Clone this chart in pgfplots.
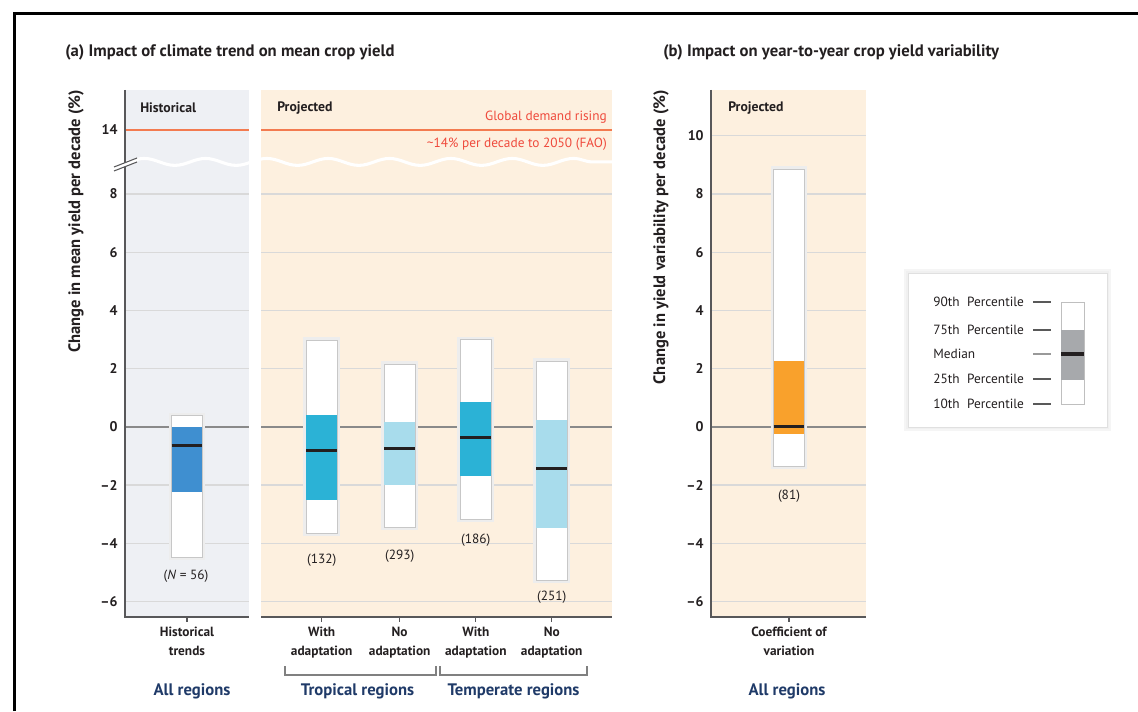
\documentclass[border=0pt]{standalone}
\usepackage{fontspec}
\setmainfont{PT Sans}
\usepackage{pgfplots}
\pgfplotsset{compat=1.18}
\usepgfplotslibrary{statistics}
\usetikzlibrary{decorations.pathmorphing}
\pgfplotsset{boxplot/draw direction=y}

\definecolor{histbg}{HTML}{EEF0F4}
\definecolor{projbg}{HTML}{FDF0DF}
\definecolor{gridc}{HTML}{D9D9D9}
\definecolor{zeroc}{HTML}{8A8A8A}
\definecolor{axisc}{HTML}{58585A}
\definecolor{demand}{HTML}{F37B50}
\definecolor{demandtxt}{HTML}{EF4A3C}
\definecolor{histbox}{HTML}{3F8FD0}
\definecolor{adapt}{HTML}{2BB2D6}
\definecolor{noadapt}{HTML}{A8DCEC}
\definecolor{cvbox}{HTML}{F9A12C}
\definecolor{medc}{HTML}{231F20}
\definecolor{navy}{HTML}{1F3A68}
\definecolor{txt}{HTML}{231F20}
\definecolor{legbox}{HTML}{A7A9AC}

% position, p10, p25, median, p75, p90, colour, box width
\newcommand{\pctbox}[8]{%
 \addplot[boxplot/draw direction=y, boxplot prepared={draw position=#1, box extend=#8,
   lower whisker=#2, lower quartile=#2, median=#4, upper quartile=#6, upper whisker=#6,
   every box/.style={fill=white, draw=black!22, line width=0.7pt,
     preaction={draw=black!7, line width=4.5pt}},
   every median/.style={draw=none}, every whisker/.style={draw=none}}] coordinates {};
 \addplot[boxplot/draw direction=y, boxplot prepared={draw position=#1, box extend=#8,
   lower whisker=#3, lower quartile=#3, median=#4, upper quartile=#5, upper whisker=#5,
   every box/.style={fill=#7, draw=none},
   every median/.style={draw=medc, line width=2.3pt}, every whisker/.style={draw=none}}] coordinates {};
}
\newcommand{\tfont}{\bfseries\fontsize{12.5}{14}\selectfont}
\newcommand{\yfont}{\bfseries\fontsize{12.4}{14}\selectfont}
\newcommand{\lfont}{\bfseries\fontsize{10.3}{12}\selectfont}
\newcommand{\nfont}{\fontsize{10}{12}\selectfont}
\newcommand{\gfont}{\bfseries\fontsize{12.5}{14}\selectfont}

\begin{document}
\begin{tikzpicture}
\path[use as bounding box] (0,0) rectangle (853.5pt,533.25pt);

% ---------------- panel (a)
\begin{axis}[
  at={(93.75pt,70.5pt)}, anchor=south west,
  scale only axis, width=365.25pt, height=395.25pt,
  xmin=-0.808, xmax=5.541, ymin=-6.53, ymax=11.57,
  axis line style={draw=none}, major tick length=0pt, clip=false,
  xtick={0,1.756,2.773,3.765,4.755},
  xticklabels={{Historical\\trends},{With\\adaptation},{No\\adaptation},{With\\adaptation},{No\\adaptation}},
  ytick={-6,-4,-2,0,2,4,6,8,10.2},
  yticklabels={--6,--4,--2,0,2,4,6,8,14},
  xticklabel style={align=center, font=\bfseries\fontsize{10}{14}\selectfont, text=txt, yshift=-4pt},
  yticklabel style={font=\bfseries\fontsize{10.5}{12}\selectfont, text=txt, xshift=-2pt},
]
\fill[histbg] (axis cs:-0.808,-6.53) rectangle (axis cs:0.808,11.57);
\fill[projbg] (axis cs:0.965,-6.53) rectangle (axis cs:5.541,11.57);
\pgfplotsinvokeforeach{-6,-4,-2,2,4,6,8}{
  \draw[gridc, line width=1pt] (axis cs:-0.808,#1) -- (axis cs:0.808,#1);
  \draw[gridc, line width=1pt] (axis cs:0.965,#1) -- (axis cs:5.541,#1);
}
\draw[zeroc, line width=1.2pt] (axis cs:-0.808,0) -- (axis cs:0.808,0);
\draw[zeroc, line width=1.2pt] (axis cs:0.965,0) -- (axis cs:5.541,0);
\draw[demand, line width=1.5pt] (axis cs:-0.808,10.2) -- (axis cs:0.808,10.2);
\draw[demand, line width=1.5pt] (axis cs:0.965,10.2) -- (axis cs:5.541,10.2);
\draw[white, line width=2.3pt, decorate, decoration={snake, amplitude=2.6pt, segment length=46pt}]
  (axis cs:-0.808,9.1) -- (axis cs:5.541,9.1);
\fill[white] (axis cs:0.808,-6.53) rectangle (axis cs:0.965,11.57);

\pctbox{0}{-4.47}{-2.25}{-0.64}{0.0}{0.38}{histbox}{0.4}
\pctbox{1.756}{-3.66}{-2.52}{-0.82}{0.41}{2.98}{adapt}{0.4}
\pctbox{2.773}{-3.44}{-1.99}{-0.74}{0.17}{2.15}{noadapt}{0.4}
\pctbox{3.765}{-3.18}{-1.68}{-0.37}{0.84}{3.00}{adapt}{0.4}
\pctbox{4.755}{-5.27}{-3.47}{-1.44}{0.23}{2.26}{noadapt}{0.4}

\draw[axisc, line width=1.8pt] (axis cs:-0.808,11.57) -- (axis cs:-0.808,-6.53) -- (axis cs:0.808,-6.53);
\draw[axisc, line width=1.8pt] (axis cs:0.965,-6.53) -- (axis cs:5.541,-6.53);
\pgfplotsinvokeforeach{0,1.756,2.773,3.765,4.755}{
  \draw[axisc, line width=1pt] (axis cs:#1,-6.53) -- (axis cs:#1,-6.71);
}
\end{axis}

% ---------------- panel (b)
\begin{axis}[
  at={(533.25pt,70.5pt)}, anchor=south west,
  scale only axis, width=116.25pt, height=395.25pt,
  xmin=-1.017, xmax=1.004, ymin=-6.53, ymax=11.57,
  axis line style={draw=none}, major tick length=0pt, clip=false,
  xtick={0},
  xticklabels={{Coefficient of\\variation}},
  ytick={-6,-4,-2,0,2,4,6,8,10},
  yticklabels={--6,--4,--2,0,2,4,6,8,10},
  xticklabel style={align=center, font=\bfseries\fontsize{10}{14}\selectfont, text=txt, yshift=-4pt},
  yticklabel style={font=\bfseries\fontsize{10.5}{12}\selectfont, text=txt, xshift=-2pt},
]
\fill[projbg] (axis cs:-1.017,-6.53) rectangle (axis cs:1.004,11.57);
\pgfplotsinvokeforeach{-6,-4,-2,2,4,6,8,10}{
  \draw[gridc, line width=1pt] (axis cs:-1.017,#1) -- (axis cs:1.004,#1);
}
\draw[zeroc, line width=1.2pt] (axis cs:-1.017,0) -- (axis cs:1.004,0);

\pctbox{0}{-1.35}{-0.25}{0.0}{2.25}{8.85}{cvbox}{0.4}

\draw[axisc, line width=1.8pt] (axis cs:-1.017,11.57) -- (axis cs:-1.017,-6.53) -- (axis cs:1.004,-6.53);
\draw[axisc, line width=1pt] (axis cs:0,-6.53) -- (axis cs:0,-6.71);
\end{axis}

% ---------------- legend box background
\begin{scope}[x=0.75pt,y=0.75pt]
\fill[black!4] (904,280) rectangle (1111,442);
\fill[black!6] (906,282) rectangle (1109,440);
\filldraw[fill=white, draw=black!12] (908,284) rectangle (1107,438);
\end{scope}

% ---------------- legend key
\begin{axis}[
  at={(795.75pt,230.25pt)}, anchor=south west,
  scale only axis, width=17.25pt, height=76.5pt,
  xmin=-0.5, xmax=0.5, ymin=307, ymax=409, hide axis, clip=false,
]
\addplot[boxplot/draw direction=y, boxplot prepared={draw position=0, box extend=1,
   lower whisker=307, lower quartile=307, median=357, upper quartile=409, upper whisker=409,
   every box/.style={fill=white, draw=black!25, line width=0.7pt},
   every median/.style={draw=none}, every whisker/.style={draw=none}}] coordinates {};
\addplot[boxplot/draw direction=y, boxplot prepared={draw position=0, box extend=1,
   lower whisker=331, lower quartile=331, median=357, upper quartile=381, upper whisker=381,
   every box/.style={fill=legbox, draw=none},
   every median/.style={draw=medc, line width=2.3pt}, every whisker/.style={draw=none}}] coordinates {};
\end{axis}

% ---------------- texts in pixel units
\begin{scope}[x=0.75pt,y=0.75pt]
\draw[black, line width=2.25pt] (14.5,0) -- (14.5,697.5) -- (1138,697.5);

\node[anchor=west, inner sep=0, text=txt, font=\tfont] at (65,659) {(a) Impact of climate trend on mean crop yield};
\node[anchor=west, inner sep=0, text=txt, font=\tfont] at (663,659) {(b) Impact on year-to-year crop yield variability};

\node[rotate=90, anchor=east, inner sep=0, text=txt, font=\yfont] at (76,621) {Change in mean yield per decade (\%)};
\node[rotate=90, anchor=east, inner sep=0, text=txt, font=\yfont] at (661,621) {Change in yield variability per decade (\%)};

\node[anchor=west, inner sep=0, text=txt, font=\lfont] at (140,603) {Historical};
\node[anchor=west, inner sep=0, text=txt, font=\lfont] at (277,603) {Projected};
\node[anchor=west, inner sep=0, text=txt, font=\lfont] at (728,603) {Projected};

\node[anchor=east, inner sep=0, text=demandtxt, font=\nfont] at (607,594) {Global demand rising};
\node[anchor=east, inner sep=0, text=demandtxt, font=\nfont] at (607,567) {\textasciitilde14\% per decade to 2050 (FAO)};

% axis break marks
\draw[white, line width=2.6pt] (114,542) -- (137,551);
\draw[axisc, line width=0.8pt] (114,540) -- (137,549);
\draw[axisc, line width=0.8pt] (114,544) -- (137,553);

\node[text=txt, font=\nfont] at (186,135) {(\textit{N} = 56)};
\node[text=txt, font=\nfont] at (321.7,151) {(132)};
\node[text=txt, font=\nfont] at (399.7,155) {(293)};
\node[text=txt, font=\nfont] at (475.8,171) {(186)};
\node[text=txt, font=\nfont] at (551.7,114) {(251)};
\node[text=txt, font=\nfont] at (789,215) {(81)};

\draw[black!50, line width=0.8pt] (285,45) -- (285,36) -- (436,36) -- (436,45);
\draw[black!50, line width=0.8pt] (440,45) -- (440,36) -- (587,36) -- (587,45);

\node[text=navy, font=\gfont] at (192,20) {All regions};
\node[text=navy, font=\gfont] at (357.5,20) {Tropical regions};
\node[text=navy, font=\gfont] at (513.5,20) {Temperate regions};
\node[text=navy, font=\gfont] at (787,20) {All regions};

% legend texts
\node[anchor=west, inner sep=0, text=txt, font=\nfont] at (933,409) {90th\hspace{0.3em} Percentile};
\node[anchor=west, inner sep=0, text=txt, font=\nfont] at (933,381) {75th\hspace{0.3em} Percentile};
\node[anchor=west, inner sep=0, text=txt, font=\nfont] at (933,357) {Median};
\node[anchor=west, inner sep=0, text=txt, font=\nfont] at (933,332) {25th\hspace{0.3em} Percentile};
\node[anchor=west, inner sep=0, text=txt, font=\nfont] at (933,307) {10th\hspace{0.3em} Percentile};
\draw[black!65, line width=0.9pt] (1033,409) -- (1051,409);
\draw[black!65, line width=0.9pt] (1033,381) -- (1051,381);
\draw[black!40, line width=0.9pt] (1033,357) -- (1051,357);
\draw[black!65, line width=0.9pt] (1033,332) -- (1051,332);
\draw[black!65, line width=0.9pt] (1033,307) -- (1051,307);
\end{scope}
\end{tikzpicture}
\end{document}
